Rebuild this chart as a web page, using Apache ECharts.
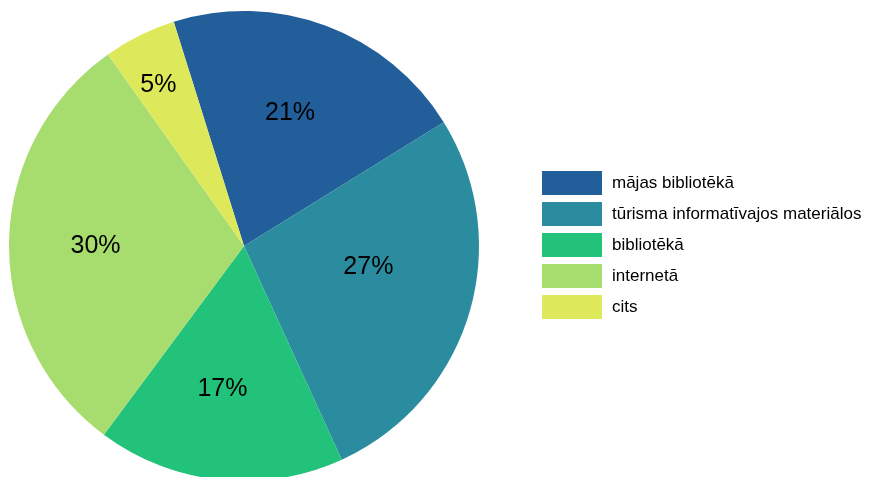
<!DOCTYPE html>
<html>
<head>
<meta charset="utf-8">
<script src="https://cdn.jsdelivr.net/npm/echarts@6/dist/echarts.min.js"></script>
<style>
  html, body { margin: 0; padding: 0; background: #fff; }
  #chart { width: 870px; height: 477px; }
</style>
</head>
<body>
<div id="chart"></div>
<script>
const categories = ['mājas bibliotēkā', 'tūrisma informatīvajos materiālos', 'bibliotēkā', 'internetā', 'cits'];
const values = [21, 27, 17, 30, 5];
const colors = ['#225f9a', '#2a8c9e', '#23c27b', '#a7dc6e', '#dde95b'];
// label nudges (style only)
const labelNudges = [[4, -20], [9, -14], [-9, 23], [-28, 1], [-32, -53]];

const chart = echarts.init(document.getElementById('chart'), null, { renderer: 'canvas' });
chart.setOption({
  backgroundColor: '#fff',
  animation: false,
  color: colors,
  legend: {
    orient: 'vertical',
    left: 542,
    top: 171,
    padding: 0,
    icon: 'rect',
    itemWidth: 60,
    itemHeight: 24,
    itemGap: 7,
    selectedMode: false,
    textStyle: { fontFamily: 'Liberation Sans, Arial, sans-serif', fontSize: 17, color: '#000', padding: [0, 0, 0, 5] },
    data: categories
  },
  series: [{
    type: 'pie',
    center: [244, 246],
    radius: 235,
    startAngle: 107.4,
    clockwise: true,
    avoidLabelOverlap: false,
    silent: true,
    itemStyle: { borderWidth: 0 },
    label: {
      show: true,
      position: 'inside',
      formatter: '{c}%',
      fontFamily: 'Liberation Sans, Arial, sans-serif',
      fontSize: 25,
      color: '#000'
    },
    labelLine: { show: false },
    labelLayout: function (p) {
      const n = labelNudges[p.dataIndex];
      return { dx: n[0], dy: n[1] };
    },
    data: categories.map((c, i) => ({ name: c, value: values[i] }))
  }]
});
</script>
</body>
</html>
